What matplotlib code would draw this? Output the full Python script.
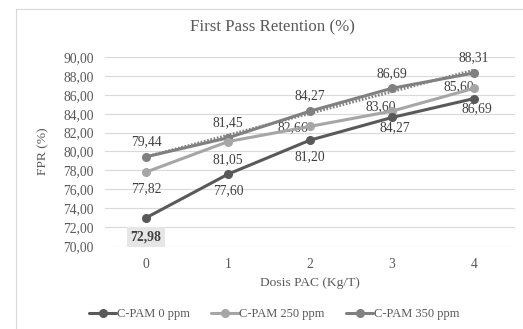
import numpy as np
import matplotlib
matplotlib.use("Agg")
import matplotlib.pyplot as plt
from matplotlib.lines import Line2D

dosis = [0, 1, 2, 3, 4]
fpr_0 = [72.98, 77.60, 81.20, 83.60, 85.60]
fpr_250 = [77.82, 81.05, 82.66, 84.27, 86.69]
fpr_350 = [79.44, 81.45, 84.27, 86.69, 88.31]
# data labels as they appear on the original chart
lab_0 = ["72,98", "77,60", "81,20", "84,27", "86,69"]
lab_250 = ["77,82", "81,05", "82,66", "83,60", "85,60"]
lab_350 = ["79,44", "81,45", "84,27", "86,69", "88,31"]
yticks = np.arange(70, 91, 2)

plt.rcParams['font.family'] = ['Liberation Serif', 'DejaVu Serif']
txt = '#595959'

fig = plt.figure(figsize=(5.23, 3.29), dpi=100)
# chart area border (left and top only visible)
fx, fy = 15.5/523, 1 - 8.5/329
fig.lines.append(Line2D([fx, fx], [0, fy], transform=fig.transFigure, color='#d9d9d9', lw=0.8))
fig.lines.append(Line2D([fx, 1], [fy, fy], transform=fig.transFigure, color='#d9d9d9', lw=0.8))

ax = fig.add_axes([105/523, 1 - 246/329, 410/523, 189/329])

c0, c250, c350 = '#595959', '#a6a6a6', '#808080'
kw = dict(lw=2.2, marker='o', ms=5.5, solid_capstyle='round')
ax.plot(dosis, fpr_350, color=c350, label='C-PAM 350 ppm', zorder=3, **kw)
ax.plot(dosis, fpr_250, color=c250, label='C-PAM 250 ppm', zorder=4, **kw)
ax.plot(dosis, fpr_0, color=c0, label='C-PAM 0 ppm', zorder=5, **kw)

# linear trendline of the 350 ppm series
coef = np.polyfit(dosis, fpr_350, 1)
xt = np.linspace(0, 4, 50)
ax.plot(xt, np.polyval(coef, xt), color=c350, lw=2.0, ls=(0, (0.6, 0.6)), zorder=3)

fs = 9.8
for i, (x, y) in enumerate(zip(dosis, fpr_0)):
    if i == 0:
        ax.annotate(lab_0[i], (x, y), xytext=(0, -19), textcoords='offset pixels',
                    ha='center', va='center', fontsize=fs, color='#404040', fontweight='bold',
                    bbox=dict(boxstyle='square,pad=0.25', fc='#e6e6e6', ec='none'))
    else:
        dy = -17 if i < 3 else -10
        dx = 0 if i < 3 else 3
        ax.annotate(lab_0[i], (x, y), xytext=(dx, dy), textcoords='offset pixels',
                    ha='center', va='center', fontsize=fs, color='#404040')
off_250 = [(0, -17), (0, -18), (-17, -1), (-11, 4), (-15, 2)]
for i, (x, y) in enumerate(zip(dosis, fpr_250)):
    ax.annotate(lab_250[i], (x, y), xytext=off_250[i], textcoords='offset pixels',
                ha='center', va='center', fontsize=fs, color='#404040')
for i, (x, y) in enumerate(zip(dosis, fpr_350)):
    ax.annotate(lab_350[i], (x, y), xytext=(0, 15), textcoords='offset pixels',
                ha='center', va='center', fontsize=fs, color='#404040')

ax.set_xlim(-0.5, 4.5)
ax.set_ylim(70, 90)
ax.set_yticks(yticks)
ax.set_yticklabels([f"{v:.2f}".replace('.', ',') for v in yticks])
ax.set_xticks(dosis)
ax.grid(axis='y', color='#d9d9d9', lw=0.8)
ax.set_axisbelow(True)
for s in ax.spines.values():
    s.set_visible(False)
ax.tick_params(length=0, labelsize=9.8, colors=txt, pad=8)
ax.tick_params(axis='x', pad=9)
ax.set_xlabel('Dosis PAC (Kg/T)', fontsize=9.7, color=txt, labelpad=4)
ax.set_ylabel('FPR (%)', fontsize=9.7, color=txt, labelpad=10)
fig.text(272/523, 1 - 27/329, 'First Pass Retention (%)', ha='center', va='center',
         fontsize=12.2, color=txt)

h, l = ax.get_legend_handles_labels()
fig.legend(h[::-1], l[::-1], loc='center', bbox_to_anchor=(274/523, 1 - 314/329), ncol=3,
           frameon=False, fontsize=9, labelcolor=txt, handlelength=2.2, handletextpad=0.05,
           columnspacing=1.7)

fig.savefig('out.png', dpi=100)
